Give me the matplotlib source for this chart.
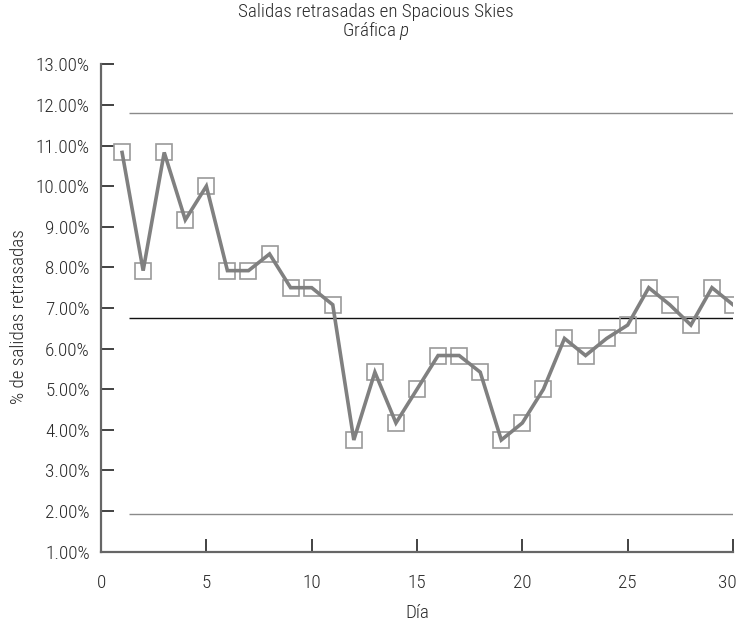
import numpy as np
import matplotlib
matplotlib.use('Agg')
from matplotlib import pyplot as plt
from matplotlib.transforms import ScaledTranslation

fams = ['Roboto Condensed', 'Liberation Sans Narrow', 'Liberation Sans', 'DejaVu Sans']
plt.rcParams['font.family'] = fams
plt.rcParams['font.stretch'] = 'condensed'
plt.rcParams['font.weight'] = 'light'
plt.rcParams['axes.labelweight'] = 'light'
plt.rcParams['mathtext.fontset'] = 'custom'
plt.rcParams['mathtext.rm'] = 'Roboto Condensed:light'
plt.rcParams['mathtext.it'] = 'Roboto Condensed:italic:light'

# datos
dias = np.arange(1, 31)
pct = [10.83, 7.92, 10.83, 9.17, 10.00, 7.92, 7.92, 8.33, 7.50, 7.50,
       7.08, 3.75, 5.42, 4.17, 5.00, 5.83, 5.83, 5.42, 3.75, 4.17,
       5.00, 6.25, 5.83, 6.25, 6.58, 7.50, 7.08, 6.58, 7.50, 7.08]
lsc = 11.80
lc = 6.76
lic = 1.92
yticks = np.arange(1, 14)
xticks = [0, 5, 10, 15, 20, 25, 30]

txt = '#2a2a2a'
fs = 13.8
fig = plt.figure(figsize=(7.39, 6.25), dpi=100)
ax = fig.add_axes([0.1367, 0.1173, 0.8552, 0.7798])

ax.hlines([lsc, lic], 1.35, 30, color='#8a8a8a', lw=1.0)
ax.hlines(lc, 1.35, 30, color='#111111', lw=1.0)
ax.plot(dias, pct, ls='none', marker='s', ms=11.5, mfc='none',
        mec='#9a9a9a', mew=1.2)
ax.plot(dias, pct, color='#808080', lw=2.6, solid_joinstyle='miter')

ax.set_xlim(0, 30)
ax.set_ylim(1, 13)
ax.set_xticks(xticks)
ax.set_yticks(yticks)
ax.set_yticklabels(['%.2f%%' % v for v in yticks])
for s in ['top', 'right']:
    ax.spines[s].set_visible(False)
for s in ['left', 'bottom']:
    ax.spines[s].set_color('#666666')
    ax.spines[s].set_linewidth(1.6)
ax.tick_params(axis='both', direction='in', length=9.5, width=1.2,
               color='#222222', labelsize=fs, labelcolor=txt)
ax.tick_params(axis='x', pad=16)
ax.tick_params(axis='y', pad=8)

# el 30 queda pegado al borde
lbl = ax.get_xticklabels()[-1]
lbl.set_transform(lbl.get_transform() + ScaledTranslation(-4/72, 0, fig.dpi_scale_trans))

ax.set_xlabel('Día', fontsize=fs, color=txt, labelpad=9, fontweight='light')
fig.text(0.026, 0.493, '% de salidas retrasadas', rotation=90, ha='center',
         va='center', fontsize=fs, color=txt)

fig.text(0.5088, 0.9815, 'Salidas retrasadas en Spacious Skies', ha='center',
         va='center', fontsize=fs, color=txt)
fig.text(0.5088, 0.9505, 'Gráfica $p$', ha='center', va='center',
         fontsize=fs, color=txt)

fig.savefig('out.png', dpi=100)
